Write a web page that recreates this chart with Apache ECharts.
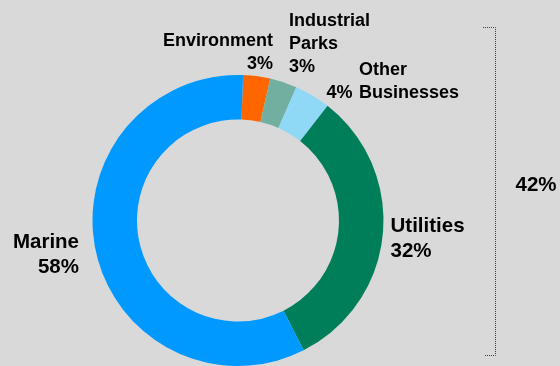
<!DOCTYPE html>
<html><head><meta charset="utf-8">
<script src="https://cdn.jsdelivr.net/npm/echarts@6/dist/echarts.min.js"></script>
<style>html,body{margin:0;padding:0;background:#d9d9d9}#c{width:560px;height:366px}</style>
</head><body><div id="c"></div>
<script>
var categories = ['Environment', 'Industrial Parks', 'Other Businesses', 'Utilities', 'Marine'];
var values = [3, 3, 4, 32, 58];
var colors = ['#FF6600', '#72AFA0', '#8FD9F7', '#007E5A', '#0099FF'];
var bracketLabel = (100 - values[4]) + '%';

var FF = '"Liberation Sans", Arial, sans-serif';
var txtSmall = {fontFamily: FF, fontWeight: 'bold', fontSize: 18, color: '#000', lineHeight: 23};
var txtBig = {fontFamily: FF, fontWeight: 'bold', fontSize: 20.5, color: '#000', lineHeight: 25};

var formatters = [
  function () { return 'Environment\n' + values[0] + '%'; },
  function () { return 'Industrial\nParks\n' + values[1] + '%'; },
  function () { return '{p|}{t|Other}\n{p|' + values[2] + '%}{t|Businesses}'; },
  function () { return 'Utilities\n' + values[3] + '%'; },
  function () { return 'Marine\n' + values[4] + '%'; }
];
var labelPos = [
  {x: 273, y: 52.5, align: 'right'},
  {x: 289, y: 43.8, align: 'left'},
  {x: 326.5, y: 82, align: 'left'},
  {x: 390.5, y: 238.5, align: 'left'},
  {x: 79, y: 255, align: 'right'}
];

var data = categories.map(function (c, i) {
  var st = (i >= 3) ? txtBig : txtSmall;
  return {
    name: c, value: values[i],
    itemStyle: {color: colors[i]},
    label: Object.assign({
      show: true, position: 'outside', formatter: formatters[i],
      rich: {
        p: Object.assign({}, txtSmall, {width: 32.5}),
        t: Object.assign({}, txtSmall)
      }
    }, st),
    labelLine: {show: false}
  };
});

var chart = echarts.init(document.getElementById('c'));
chart.setOption({
  backgroundColor: '#d9d9d9',
  animation: false,
  series: [{
    type: 'pie',
    center: [238, 220.5],
    radius: [101, 145.5],
    startAngle: 88,
    clockwise: true,
    avoidLabelOverlap: false,
    emphasis: {disabled: true},
    itemStyle: {borderWidth: 0},
    labelLine: {show: false},
    labelLayout: function (p) {
      var l = labelPos[p.dataIndex];
      return {x: l.x, y: l.y, align: l.align, verticalAlign: 'middle', hideOverlap: false};
    },
    data: data
  }],
  graphic: [
    {type: 'polyline', silent: true,
     shape: {points: [[483, 27.5], [495.5, 27.5], [495.5, 355.5], [484, 355.5]]},
     style: {stroke: '#404040', lineWidth: 1, fill: null, lineDash: [1, 1]}},
    {type: 'text', silent: true, x: 515.5, y: 185.5,
     style: {text: bracketLabel, font: 'bold 20.5px ' + FF, fill: '#000', verticalAlign: 'middle', align: 'left'}}
  ]
});
</script></body></html>
